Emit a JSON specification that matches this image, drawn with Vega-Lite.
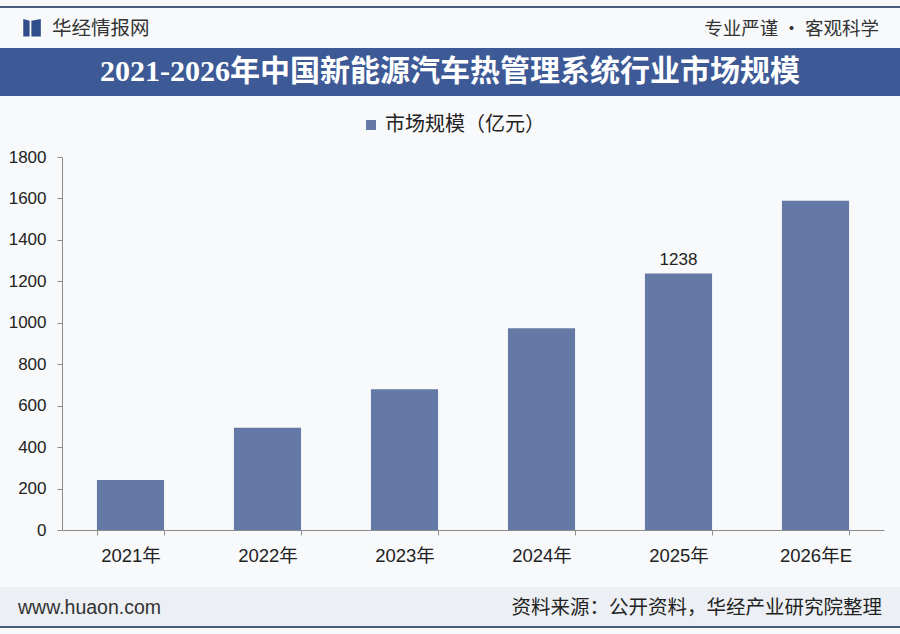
{
  "$schema": "https://vega.github.io/schema/vega-lite/v6.json",
  "background": "#f8f9fb",
  "padding": {"top": 6, "bottom": 7, "left": 0, "right": 0},
  "spacing": 0,
  "resolve": {
    "scale": {"x": "independent", "y": "independent", "color": "independent"},
    "legend": {"color": "independent"}
  },
  "config": {
    "view": {"stroke": null},
    "font": "Noto Sans CJK SC"
  },
  "vconcat": [
    {
      "width": 900,
      "height": 2,
      "data": {"values": [{"part": "top rule"}]},
      "mark": {"type": "rect", "color": "#4a5b7c"},
      "encoding": {}
    },
    {
      "width": 900,
      "height": 40,
      "data": {
        "values": [
          {"slot": "left", "label": "华经情报网"},
          {"slot": "right", "label": "专业严谨 • 客观科学"}
        ]
      },
      "encoding": {
        "x": {
          "field": "slot",
          "type": "nominal",
          "axis": null,
          "scale": {"type": "point", "domain": ["left", "right"], "padding": 0.0245}
        }
      },
      "layer": [
        {
          "transform": [{"filter": "datum.slot == 'left'"}],
          "mark": {
            "type": "point",
            "shape": "M0.25,-1 L0.95,-0.8 L0.95,0.95 L0.25,0.95 Z M1.15,-0.8 L2.2,-1 L2.2,0.95 L1.15,0.95 Z",
            "filled": true,
            "color": "#2f4d8a",
            "opacity": 1,
            "size": 324
          }
        },
        {
          "transform": [{"filter": "datum.slot == 'left'"}],
          "mark": {"type": "text", "align": "left", "dx": 31, "dy": 1, "fontSize": 19.5, "color": "#333333"},
          "encoding": {"text": {"field": "label"}}
        },
        {
          "transform": [{"filter": "datum.slot == 'right'"}],
          "mark": {"type": "text", "align": "right", "dy": 1, "fontSize": 18.5, "color": "#333333"},
          "encoding": {"text": {"field": "label"}}
        }
      ]
    },
    {
      "width": 900,
      "height": 48,
      "data": {"values": [{"title": "2021-2026年中国新能源汽车热管理系统行业市场规模"}]},
      "layer": [
        {"mark": {"type": "rect", "color": "#3d5a97"}, "encoding": {}},
        {
          "mark": {
            "type": "text",
            "color": "white",
            "font": "Liberation Serif, Noto Sans CJK SC",
            "fontWeight": "bold",
            "fontSize": 30
          },
          "encoding": {"text": {"field": "title"}}
        }
      ]
    },
    {
      "width": 900,
      "height": 373,
      "data": {
        "values": [
          {"year": "2021年", "value": 241},
          {"year": "2022年", "value": 494},
          {"year": "2023年", "value": 679},
          {"year": "2024年", "value": 973},
          {"year": "2025年", "value": 1238},
          {"year": "2026年E", "value": 1589}
        ]
      },
      "encoding": {
        "x": {
          "field": "year",
          "type": "nominal",
          "sort": null,
          "scale": {"range": [62, 884], "paddingInner": 0.51, "paddingOuter": 0.255},
          "axis": {
            "title": null,
            "labelAngle": 0,
            "labelFont": "Liberation Sans, Noto Sans CJK SC",
            "labelFontSize": 18.5,
            "labelColor": "#222222",
            "labelPadding": 11,
            "tickSize": 5,
            "tickBand": "extent",
            "domainColor": "#8c8c8c",
            "tickColor": "#8c8c8c",
            "minExtent": 57,
            "maxExtent": 57
          }
        },
        "y": {
          "field": "value",
          "type": "quantitative",
          "scale": {"domain": [0, 1800]},
          "axis": {
            "title": null,
            "grid": false,
            "format": "d",
            "values": [0, 200, 400, 600, 800, 1000, 1200, 1400, 1600, 1800],
            "offset": -62,
            "tickSize": 5,
            "labelPadding": 11,
            "labelFont": "Liberation Sans",
            "labelFontSize": 17,
            "labelColor": "#222222",
            "domainColor": "#8c8c8c",
            "tickColor": "#8c8c8c"
          }
        }
      },
      "layer": [
        {
          "mark": {"type": "bar"},
          "encoding": {
            "color": {
              "datum": "市场规模（亿元）",
              "scale": {"range": ["#6479a5"]},
              "legend": {
                "title": null,
                "orient": "none",
                "legendX": 342,
                "legendY": -61,
                "padding": 19,
                "symbolType": "square",
                "symbolSize": 100,
                "symbolStrokeWidth": 0,
                "labelFontSize": 20,
                "labelColor": "#222222",
                "labelOffset": 4
              }
            }
          }
        },
        {
          "transform": [{"filter": "datum.year == '2025年'"}],
          "mark": {"type": "text", "dy": -13, "fontSize": 17, "font": "Liberation Sans", "color": "#222222"},
          "encoding": {"text": {"field": "value", "type": "quantitative"}}
        }
      ]
    },
    {
      "width": 900,
      "height": 39,
      "data": {
        "values": [
          {"slot": "left", "label": "www.huaon.com"},
          {"slot": "right", "label": "资料来源：公开资料，华经产业研究院整理"}
        ]
      },
      "layer": [
        {"mark": {"type": "rect", "color": "#eceff3"}, "encoding": {}},
        {
          "transform": [{"filter": "datum.slot == 'left'"}],
          "mark": {"type": "text", "align": "left", "dy": 1, "fontSize": 19.5, "font": "Liberation Sans", "color": "#333333"},
          "encoding": {
            "x": {"field": "slot", "type": "nominal", "axis": null, "scale": {"type": "point", "domain": ["left", "right"], "padding": 0.0208}},
            "text": {"field": "label"}
          }
        },
        {
          "transform": [{"filter": "datum.slot == 'right'"}],
          "mark": {"type": "text", "align": "right", "dy": 1, "fontSize": 19.5, "color": "#222222"},
          "encoding": {
            "x": {"field": "slot", "type": "nominal", "axis": null, "scale": {"type": "point", "domain": ["left", "right"], "padding": 0.0208}},
            "text": {"field": "label"}
          }
        }
      ]
    },
    {
      "width": 900,
      "height": 2,
      "data": {"values": [{"part": "bottom rule"}]},
      "mark": {"type": "rect", "color": "#4a5b7c"},
      "encoding": {}
    }
  ]
}
